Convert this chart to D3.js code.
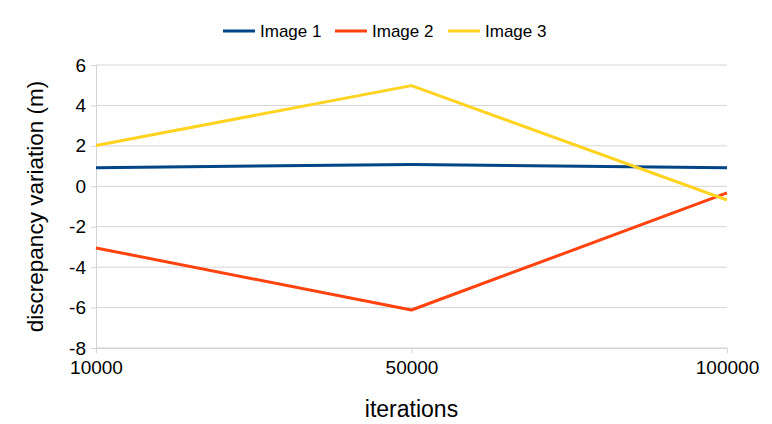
<!DOCTYPE html>
<html>
<head>
<meta charset="utf-8">
<script src="https://cdn.jsdelivr.net/npm/d3@7"></script>
<style>
  body { margin: 0; background: #fff; }
  text { font-family: "Liberation Sans", Arial, sans-serif; fill: #000; }
</style>
</head>
<body>
<svg id="chart" width="772" height="424"></svg>
<script>
// data
const iterations = ["10000", "50000", "100000"],
    seriesNames = ["Image 1", "Image 2", "Image 3"],
    image1 = [0.92, 1.08, 0.92],
    image2 = [-3.05, -6.12, -0.33],
    image3 = [2.02, 4.98, -0.68],
    yTicks = [-8, -6, -4, -2, 0, 2, 4, 6],
    colors = ["#004586", "#ff420e", "#ffd320"];

const series = [image1, image2, image3];

const svg = d3.select("#chart"),
    margin = {top: 65, right: 45, bottom: 76, left: 96},
    width = +svg.attr("width") - margin.left - margin.right,
    height = +svg.attr("height") - margin.top - margin.bottom;

const x = d3.scalePoint().domain(iterations).range([0, width]);
const y = d3.scaleLinear().domain([-8, 6]).range([height, 0]);

const g = svg.append("g")
    .attr("transform", "translate(" + margin.left + "," + margin.top + ")");

// gridlines
g.append("g").selectAll("line")
    .data(yTicks)
  .enter().append("line")
    .attr("x1", 0).attr("x2", width)
    .attr("y1", d => y(d)).attr("y2", d => y(d))
    .style("stroke", "#d4d4d4").style("stroke-width", 1);

// y axis
const yAxis = g.append("g")
    .call(d3.axisLeft(y).tickValues(yTicks).tickSize(5).tickPadding(5)
      .tickFormat(d => String(d)));
yAxis.select(".domain").style("stroke", "#d4d4d4");
yAxis.selectAll(".tick line").style("stroke", "#d4d4d4");
yAxis.selectAll("text").style("font-size", "19px").attr("fill", "#000");

// x axis
const xAxis = g.append("g")
    .attr("transform", "translate(0," + height + ")")
    .call(d3.axisBottom(x).tickSize(5).tickPadding(8).tickSizeOuter(0));
xAxis.select(".domain").style("stroke", "#d4d4d4");
xAxis.selectAll(".tick line").style("stroke", "#d4d4d4");
xAxis.selectAll("text").style("font-size", "19px").attr("fill", "#000");

// lines
const line = d3.line()
    .x((d, i) => x(iterations[i]))
    .y(d => y(d));

g.append("g").selectAll("path")
    .data(series)
  .enter().append("path")
    .attr("d", line)
    .style("fill", "none")
    .style("stroke", (d, i) => colors[i])
    .style("stroke-width", 3)
    .style("stroke-linejoin", "round");

// axis titles
svg.append("text")
    .attr("transform", "translate(43," + (margin.top + height / 2) + ") rotate(-90)")
    .attr("text-anchor", "middle")
    .style("font-size", "22.5px")
    .text("discrepancy variation (m)");

svg.append("text")
    .attr("x", margin.left + width / 2)
    .attr("y", 417)
    .attr("text-anchor", "middle")
    .style("font-size", "23px")
    .text("iterations");

// legend
const legendX = [223, 335, 448];
const legend = svg.append("g").selectAll("g")
    .data(seriesNames)
  .enter().append("g")
    .attr("transform", (d, i) => "translate(" + legendX[i] + ",31)");
legend.append("line")
    .attr("x1", 0).attr("x2", 32)
    .style("stroke", (d, i) => colors[i])
    .style("stroke-width", 3);
legend.append("text")
    .attr("x", 37).attr("y", 6)
    .style("font-size", "17px")
    .text(d => d);
</script>
</body>
</html>
